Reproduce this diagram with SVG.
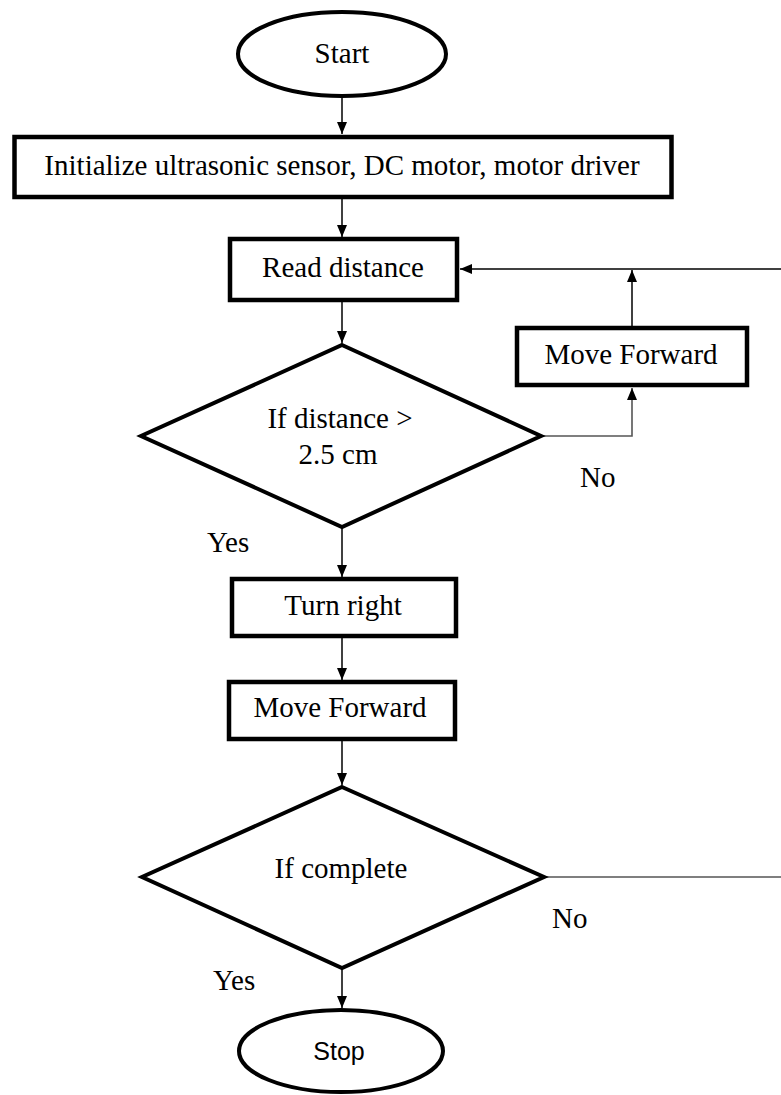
<svg xmlns="http://www.w3.org/2000/svg" width="781" height="1095" viewBox="0 0 781 1095">
<style>
.box{fill:#fff;stroke:#000;stroke-width:4.5}
.term{fill:#fff;stroke:#000;stroke-width:4}
.dec{fill:#fff;stroke:#000;stroke-width:4;stroke-linejoin:miter}
.t{font-family:"Liberation Serif","Times New Roman",serif;font-size:29px;fill:#000;text-anchor:middle}
.lbl{font-family:"Liberation Serif","Times New Roman",serif;font-size:29px;fill:#000}
.s{font-family:"Liberation Sans",Arial,sans-serif;font-size:25px;fill:#000;text-anchor:middle}
.c{fill:none;stroke:#000;stroke-width:1.5}
.g{fill:none;stroke:#555;stroke-width:1.6}
</style>
<defs>
<marker id="ah" viewBox="0 0 12 10" refX="12" refY="5" markerWidth="12" markerHeight="10" markerUnits="userSpaceOnUse" orient="auto">
<path d="M0,0 L12,5 L0,10 z" fill="#000"/>
</marker>
</defs>
<rect width="781" height="1095" fill="#fff"/>
<g id="connectors">
<line class="c" x1="342" y1="96" x2="342" y2="134" marker-end="url(#ah)"/>
<line class="c" x1="342" y1="199" x2="342" y2="237" marker-end="url(#ah)"/>
<line class="c" x1="342" y1="302" x2="342" y2="343" marker-end="url(#ah)"/>
<line class="c" x1="342" y1="528" x2="342" y2="577" marker-end="url(#ah)"/>
<line class="c" x1="342" y1="638" x2="342" y2="680" marker-end="url(#ah)"/>
<line class="c" x1="342" y1="741" x2="342" y2="785" marker-end="url(#ah)"/>
<line class="c" x1="342" y1="969" x2="342" y2="1008" marker-end="url(#ah)"/>
<polyline class="g" points="543,436 632,436 632,388" marker-end="url(#ah)"/>
<line class="c" x1="632" y1="326" x2="632" y2="270" marker-end="url(#ah)"/>
<line class="c" x1="781" y1="269" x2="460" y2="269" marker-end="url(#ah)"/>
<line class="g" x1="546" y1="877" x2="781" y2="877"/>
</g>
<g id="start">
<ellipse class="term" cx="342" cy="54" rx="104" ry="42"/>
<text class="t" x="342" y="63">Start</text>
</g>
<g id="init">
<rect class="box" x="14.5" y="137" width="657" height="60"/>
<text class="t" x="342" y="175">Initialize ultrasonic sensor, DC motor, motor driver</text>
</g>
<g id="read">
<rect class="box" x="230" y="239" width="227" height="61"/>
<text class="t" x="343" y="277">Read distance</text>
</g>
<g id="moveFwd1">
<rect class="box" x="517" y="328" width="230" height="57"/>
<text class="t" x="631" y="364">Move Forward</text>
</g>
<g id="dec1">
<polygon class="dec" points="342,345 541,436 342,527 141,436"/>
<text class="t" x="340" y="428">If distance &gt;</text>
<text class="t" x="338" y="464">2.5 cm</text>
</g>
<g id="turn">
<rect class="box" x="232" y="579" width="224" height="57"/>
<text class="t" x="343" y="615">Turn right</text>
</g>
<g id="moveFwd2">
<rect class="box" x="229" y="682" width="226" height="57"/>
<text class="t" x="340" y="717">Move Forward</text>
</g>
<g id="dec2">
<polygon class="dec" points="342,787 544,877 342,968 142,877"/>
<text class="t" x="341" y="878">If complete</text>
</g>
<g id="stop">
<ellipse class="term" cx="341" cy="1051" rx="102" ry="41"/>
<text class="s" x="339" y="1060">Stop</text>
</g>
<g id="labels">
<text class="lbl" x="580" y="487">No</text>
<text class="lbl" x="207" y="552">Yes</text>
<text class="lbl" x="552" y="928">No</text>
<text class="lbl" x="213" y="990">Yes</text>
</g>
</svg>
